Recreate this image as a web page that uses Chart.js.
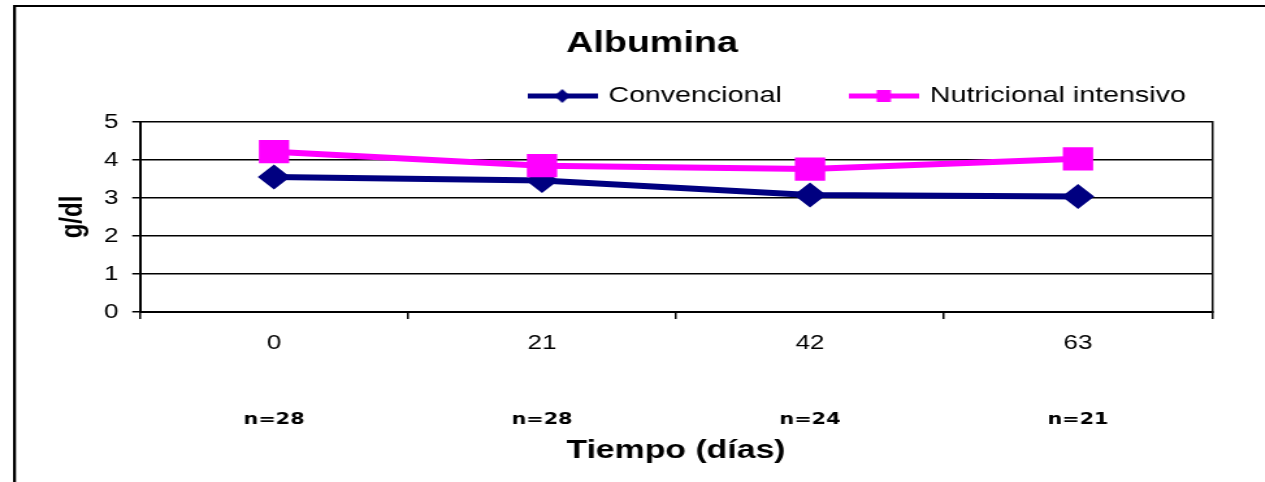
<!DOCTYPE html>
<html>
<head>
<meta charset="utf-8">
<script src="https://cdn.jsdelivr.net/npm/chart.js@4.4.1/dist/chart.umd.min.js"></script>
<style>
  html, body { margin: 0; padding: 0; background: #fff; overflow: hidden; }
  /* the original picture is stretched sideways, so the whole chart is too */
  #wrap { width: 973px; height: 482px; transform: scaleX(1.3); transform-origin: 0 0; }
</style>
</head>
<body>
<div id="wrap"><canvas id="albumina" width="973" height="482"></canvas></div>
<script>
const dias = ["0", "21", "42", "63"];
const nPacientes = ["n=28", "n=28", "n=24", "n=21"];
const convencional = [3.55, 3.46, 3.08, 3.04];
const nutricional = [4.22, 3.85, 3.76, 4.03];
const yMin = 0, yMax = 5, yStep = 1;

const navy = "#000080";
const magenta = "#FF00FF";

Chart.defaults.font.family = "'Liberation Sans', Arial, sans-serif";
Chart.defaults.color = "#000";

// line + marker sample used as the legend symbol
function legendSample(color, shape) {
    const c = document.createElement("canvas");
    c.width = 54;
    c.height = 16;
    const g = c.getContext("2d");
    g.fillStyle = color;
    g.fillRect(0, 5.5, 54, 5);
    g.beginPath();
    if (shape === "diamond") {
        g.moveTo(21, 8); g.lineTo(27, 1); g.lineTo(33, 8); g.lineTo(27, 15);
        g.closePath();
        g.fill();
    } else {
        g.fillRect(21.5, 2, 11, 12);
    }
    return c;
}
const samples = [legendSample(navy, "diamond"), legendSample(magenta, "square")];

const frame = {
    id: "frame",
    beforeDraw(chart) {
        const ctx = chart.ctx;
        ctx.save();
        ctx.fillStyle = "#000";
        ctx.fillRect(10, 5, chart.width - 10, 2);
        ctx.fillRect(10, 5, 2.3, chart.height - 5);
        ctx.restore();
    }
};

// legend sits to the right, not centred
const legendPlace = {
    id: "legendPlace",
    afterLayout(chart) {
        const lg = chart.legend;
        lg.left = 354;
        lg.right = 1000;
        lg.top = 31;
        lg.bottom = 120;
        lg.width = lg.right - lg.left;
        lg.height = lg.bottom - lg.top;
    }
};

new Chart(document.getElementById("albumina"), {
    type: "line",
    data: {
        labels: dias,
        datasets: [
            {
                label: "Convencional",
                data: convencional,
                borderColor: navy,
                backgroundColor: navy,
                borderWidth: 6,
                pointStyle: "rectRot",
                pointRadius: 12.5,
                pointBorderWidth: 0,
                pointBackgroundColor: navy,
                tension: 0,
                order: 1,
            },
            {
                label: "Nutricional intensivo",
                data: nutricional,
                borderColor: magenta,
                backgroundColor: magenta,
                borderWidth: 6,
                pointStyle: "rect",
                pointRadius: 16.5,
                pointBorderWidth: 0,
                pointBackgroundColor: magenta,
                tension: 0,
                order: 0,
            },
        ],
    },
    options: {
        responsive: false,
        animation: false,
        layout: { padding: { top: 8, left: 30, right: 0, bottom: 0 } },
        plugins: {
            tooltip: { enabled: false },
            title: {
                display: true,
                text: "Albumina",
                color: "#000",
                font: { size: 29, weight: "bold" },
                padding: { top: 18.6, bottom: 0 },
            },
            legend: {
                display: true,
                position: "top",
                align: "start",
                maxHeight: 60.6,
                labels: {
                    usePointStyle: true,
                    pointStyleWidth: 49,
                    padding: 54,
                    color: "#000",
                    font: { size: 22 },
                    sort: (a, b) => a.datasetIndex - b.datasetIndex,
                    generateLabels(chart) {
                        const items = Chart.defaults.plugins.legend.labels.generateLabels(chart);
                        items.forEach((it) => { it.pointStyle = samples[it.datasetIndex]; });
                        return items;
                    },
                },
            },
        },
        scales: {
            x: {
                type: "category",
                position: "bottom",
                offset: true,
                weight: 0,
                grid: { offset: true, drawOnChartArea: false, drawTicks: true, tickLength: 7, color: "#000", lineWidth: 1.5 },
                border: { display: true, color: "#000", width: 2 },
                ticks: { padding: 12, color: "#000", font: { size: 20 }, maxRotation: 0 },
                afterFit(s) { s.height = 42; },
            },
            x2: {
                type: "category",
                labels: nPacientes,
                position: "bottom",
                offset: true,
                weight: 1,
                grid: { display: false, drawTicks: false },
                border: { display: false },
                ticks: { padding: 56, color: "#000", font: { family: "'DejaVu Sans'", size: 16, weight: "bold" }, maxRotation: 0 },
                title: {
                    display: true,
                    text: "Tiempo (días)",
                    color: "#000",
                    font: { size: 26, weight: "bold" },
                    padding: { top: 0, bottom: 15.4 },
                },
                afterFit(s) { s.height = 128; },
            },
            y: {
                position: "left",
                min: yMin,
                max: yMax,
                ticks: { stepSize: yStep, padding: 10.5, color: "#000", font: { size: 20 } },
                grid: { color: "#000", lineWidth: 1.5, drawTicks: true, tickLength: 6 },
                border: { display: true, color: "#000", width: 2 },
                title: {
                    display: true,
                    text: "g/dl",
                    color: "#000",
                    font: { size: 24, weight: "bold" },
                    padding: { top: 12, bottom: 0 },
                },
                afterFit(s) { s.width = 77.7; },
            },
            y2: {
                position: "right",
                min: yMin,
                max: yMax,
                ticks: { display: false },
                grid: { display: false },
                border: { display: true, color: "#000", width: 1.5 },
                afterFit(s) { s.width = 40.7; },
            },
        },
    },
    plugins: [frame, legendPlace],
});
</script>
</body>
</html>
